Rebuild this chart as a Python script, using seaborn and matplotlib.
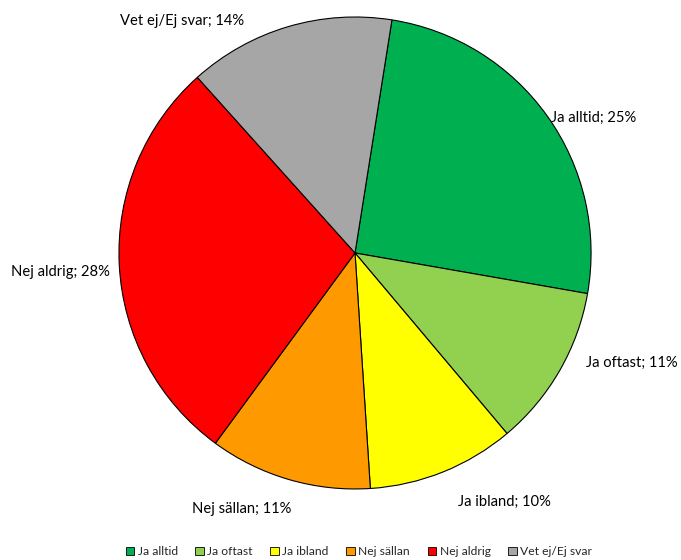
import numpy as np
import matplotlib
matplotlib.use("Agg")
import matplotlib.pyplot as plt
from matplotlib.patches import Patch
import seaborn as sns

categories = ["Ja alltid", "Ja oftast", "Ja ibland", "Nej sällan", "Nej aldrig", "Vet ej/Ej svar"]
shares = [25, 11, 10, 11, 28, 14]
slice_colors = ["#00B050", "#92D050", "#FFFF00", "#FF9900", "#FF0000", "#A6A6A6"]
# label placement: distance from centre (pie radii) and angular nudge (degrees, counter-clockwise)
label_dist = [1.01, 1.085, 1.14, 1.12, 1.04, 1.09]
label_nudge = [-1.0, 4.4, 0.6, 2.3, 1.7, 9.0]

sns.set_theme(style="white")
plt.rcParams["font.family"] = ["Lato", "DejaVu Sans"]

palette = sns.color_palette(slice_colors)

fig = plt.figure(figsize=(6.81, 5.60), dpi=100)
ax = fig.add_axes([0, 0, 1, 1])

wedges, _ = ax.pie(
    shares,
    colors=palette,
    startangle=81.0,
    counterclock=False,
    radius=1.0,
    wedgeprops=dict(edgecolor="black", linewidth=0.8),
)

for w, name, val, d, nudge in zip(wedges, categories, shares, label_dist, label_nudge):
    mid = np.deg2rad((w.theta1 + w.theta2) / 2 + nudge)
    x, y = d * np.cos(mid), d * np.sin(mid)
    ax.text(x, y, f"{name}; {val}%", ha="left" if x > 0 else "right",
            va="center", fontsize=10.6, color="black")

ax.set_xlim(-1.504, 1.381)
ax.set_ylim(-1.301, 1.072)
ax.set_aspect("auto")
ax.axis("off")

handles = [Patch(facecolor=c, edgecolor="black", linewidth=0.6) for c in palette]
fig.legend(handles, categories, loc="center", bbox_to_anchor=(0.527, 0.015),
           ncol=6, frameon=False, fontsize=8.7, handlelength=0.7, handleheight=0.7,
           handletextpad=0.3, columnspacing=1.45)

fig.savefig("out.png", dpi=100)
